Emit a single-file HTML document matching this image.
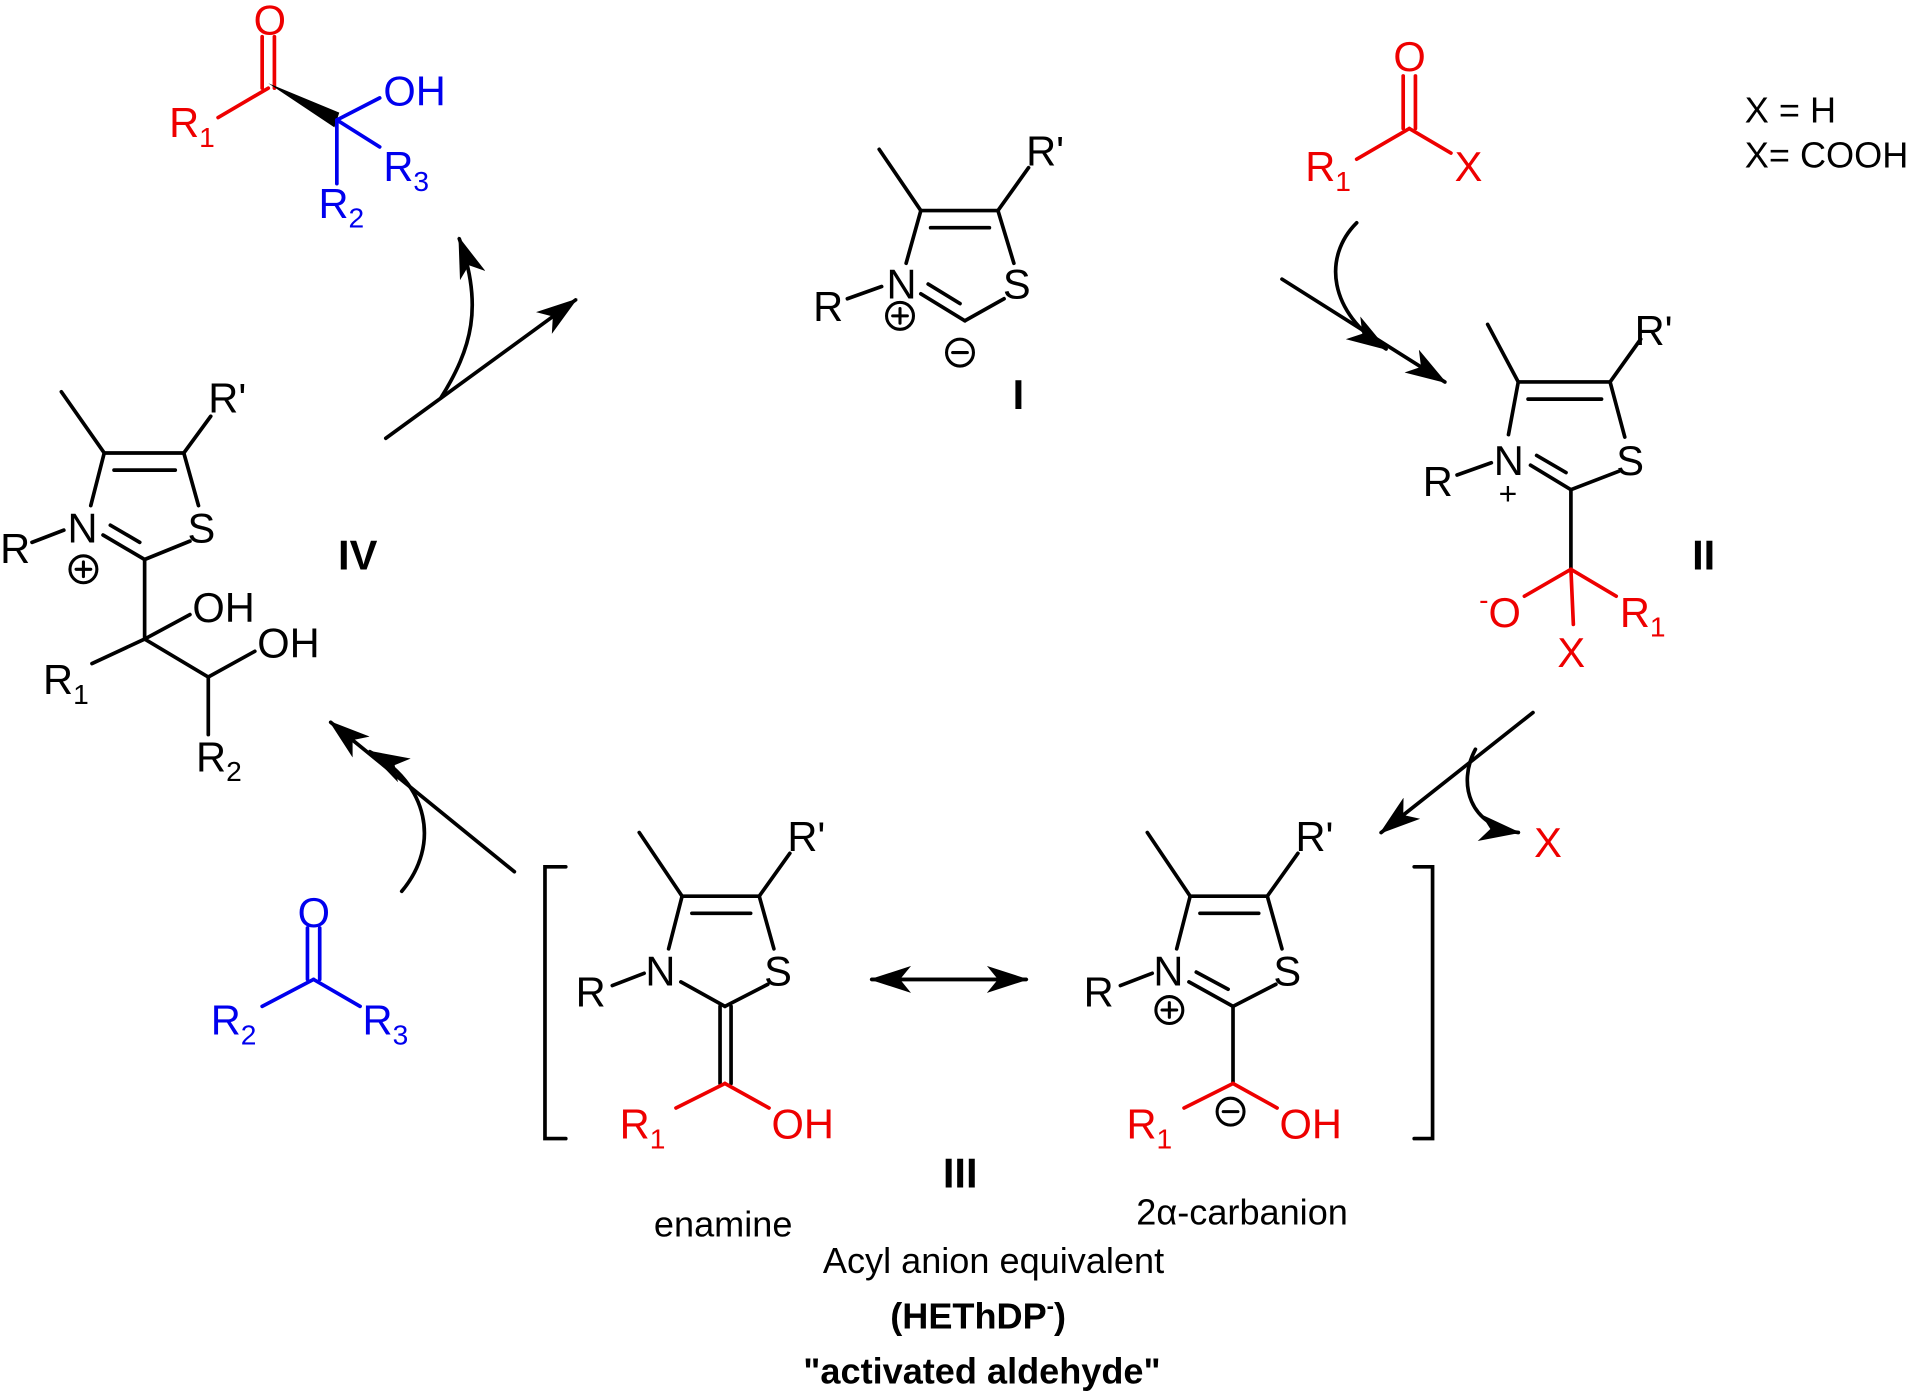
<!DOCTYPE html>
<html><head><meta charset="utf-8"><style>
html,body{margin:0;padding:0;background:#fff;}
svg{display:block;}
text{font-family:"Liberation Sans",sans-serif;font-size:34px;}
.b{font-weight:bold;}
.r{fill:#e00;}
.u{fill:#00e;}
.s{font-size:23px;}
.t{font-size:29.5px;}
</style></head><body>
<svg width="1920" height="1392" viewBox="0 0 1568 1137" xmlns="http://www.w3.org/2000/svg">
<defs>
<marker id="ah" viewBox="0 0 34 22" refX="32" refY="11" markerWidth="34" markerHeight="22" markerUnits="userSpaceOnUse" orient="auto">
<path d="M0,0 L34,11 L0,22 L9,11 Z" fill="#000"/>
</marker>
</defs>
<g stroke="#000" stroke-width="3" fill="none" stroke-linecap="round">
<!-- I -->
<line x1="718" y1="122" x2="752" y2="172"/>
<line x1="752" y1="172" x2="815" y2="172"/>
<line x1="760" y1="186" x2="808" y2="186"/>
<line x1="815" y1="172" x2="840" y2="137"/>
<line x1="815" y1="172" x2="828" y2="215"/>
<line x1="752" y1="172" x2="740" y2="215"/>
<line x1="820" y1="244" x2="788" y2="262"/>
<line x1="788" y1="262" x2="752" y2="240"/>
<line x1="784" y1="248" x2="758" y2="232"/>
<line x1="692" y1="244" x2="720" y2="234"/>
<circle cx="735" cy="258" r="11" stroke-width="2.5"/>
<line x1="729" y1="258" x2="741" y2="258" stroke-width="2.5"/><line x1="735" y1="252" x2="735" y2="264" stroke-width="2.5"/>
<circle cx="784" cy="288" r="11" stroke-width="2.5"/>
<line x1="778" y1="288" x2="790" y2="288" stroke-width="2.5"/>
<!-- II -->
<line x1="1215" y1="265" x2="1240" y2="312"/>
<line x1="1240" y1="312" x2="1315" y2="312"/>
<line x1="1248" y1="326" x2="1308" y2="326"/>
<line x1="1315" y1="312" x2="1340" y2="277"/>
<line x1="1315" y1="312" x2="1327" y2="357"/>
<line x1="1240" y1="312" x2="1232" y2="355"/>
<line x1="1322" y1="385" x2="1283" y2="400"/>
<line x1="1283" y1="400" x2="1250" y2="380"/>
<line x1="1279" y1="386" x2="1255" y2="372"/>
<line x1="1190" y1="388" x2="1218" y2="378"/>
<line x1="1283" y1="400" x2="1283" y2="465"/>
<!-- IV -->
<line x1="50" y1="320" x2="85" y2="370"/>
<line x1="85" y1="370" x2="150" y2="370"/>
<line x1="93" y1="384" x2="143" y2="384"/>
<line x1="150" y1="370" x2="172" y2="340"/>
<line x1="150" y1="370" x2="162" y2="413"/>
<line x1="85" y1="370" x2="74" y2="413"/>
<line x1="155" y1="442" x2="118" y2="457"/>
<line x1="118" y1="457" x2="84" y2="437"/>
<line x1="114" y1="443" x2="90" y2="429"/>
<line x1="26" y1="443" x2="52" y2="433"/>
<circle cx="68" cy="465" r="11" stroke-width="2.5"/>
<line x1="62" y1="465" x2="74" y2="465" stroke-width="2.5"/><line x1="68" y1="459" x2="68" y2="471" stroke-width="2.5"/>
<line x1="118" y1="457" x2="118" y2="522"/>
<line x1="118" y1="522" x2="155" y2="502"/>
<line x1="118" y1="522" x2="75" y2="542"/>
<line x1="118" y1="522" x2="170" y2="553"/>
<line x1="170" y1="553" x2="208" y2="532"/>
<line x1="170" y1="553" x2="170" y2="600"/>
<!-- III enamine -->
<line x1="522" y1="680" x2="557" y2="732"/>
<line x1="557" y1="732" x2="620" y2="732"/>
<line x1="565" y1="746" x2="613" y2="746"/>
<line x1="620" y1="732" x2="645" y2="697"/>
<line x1="620" y1="732" x2="632" y2="775"/>
<line x1="557" y1="732" x2="546" y2="775"/>
<line x1="627" y1="804" x2="592" y2="822"/>
<line x1="592" y1="822" x2="556" y2="802"/>
<line x1="500" y1="805" x2="526" y2="795"/>
<line x1="588" y1="822" x2="588" y2="885"/>
<line x1="597" y1="822" x2="597" y2="885"/>
<!-- carbanion -->
<line x1="937" y1="680" x2="972" y2="732"/>
<line x1="972" y1="732" x2="1035" y2="732"/>
<line x1="980" y1="746" x2="1028" y2="746"/>
<line x1="1035" y1="732" x2="1060" y2="697"/>
<line x1="1035" y1="732" x2="1047" y2="775"/>
<line x1="972" y1="732" x2="961" y2="775"/>
<line x1="1042" y1="804" x2="1007" y2="822"/>
<line x1="1007" y1="822" x2="971" y2="802"/>
<line x1="1003" y1="808" x2="977" y2="794"/>
<line x1="915" y1="805" x2="941" y2="795"/>
<circle cx="955" cy="825" r="11" stroke-width="2.5"/>
<line x1="949" y1="825" x2="961" y2="825" stroke-width="2.5"/><line x1="955" y1="819" x2="955" y2="831" stroke-width="2.5"/>
<line x1="1007" y1="822" x2="1007" y2="885"/>
<circle cx="1005" cy="908" r="11" stroke-width="2.5"/>
<line x1="999" y1="908" x2="1011" y2="908" stroke-width="2.5"/>
<!-- brackets -->
<polyline points="462,708 445,708 445,930 462,930"/>
<polyline points="1155,708 1170,708 1170,930 1155,930"/>
<!-- arrows -->
<line x1="712" y1="800" x2="838" y2="800" marker-end="url(#ah)"/>
<line x1="838" y1="800" x2="712" y2="800" marker-end="url(#ah)"/>
<line x1="1047" y1="228" x2="1180" y2="312" marker-end="url(#ah)"/>
<path d="M1108,182 C1080,210 1085,255 1132,285" marker-end="url(#ah)"/>
<line x1="1252" y1="582" x2="1128" y2="680" marker-end="url(#ah)"/>
<path d="M1205,612 C1190,640 1200,675 1240,680" marker-end="url(#ah)"/>
<line x1="420" y1="712" x2="270" y2="590" marker-end="url(#ah)"/>
<path d="M328,728 C360,690 350,640 302,614" marker-end="url(#ah)"/>
<line x1="315" y1="358" x2="470" y2="245" marker-end="url(#ah)"/>
<path d="M360,325 C385,285 395,250 375,195" marker-end="url(#ah)"/>
</g>
<g stroke="#e00" stroke-width="3" fill="none" stroke-linecap="round">
<line x1="214" y1="30" x2="214" y2="72"/><line x1="224" y1="30" x2="224" y2="72"/>
<line x1="219" y1="72" x2="178" y2="96"/>
<line x1="1146" y1="62" x2="1146" y2="105"/><line x1="1156" y1="62" x2="1156" y2="105"/>
<line x1="1151" y1="105" x2="1108" y2="130"/>
<line x1="1151" y1="105" x2="1185" y2="125"/>
<line x1="1283" y1="465" x2="1245" y2="487"/>
<line x1="1283" y1="465" x2="1320" y2="487"/>
<line x1="1283" y1="465" x2="1285" y2="510"/>
<line x1="592" y1="885" x2="552" y2="905"/>
<line x1="592" y1="885" x2="628" y2="905"/>
<line x1="1007" y1="885" x2="967" y2="905"/>
<line x1="1007" y1="885" x2="1043" y2="905"/>
</g>
<polygon points="219,68 277,92 273,104" fill="#000"/>
<g stroke="#00e" stroke-width="3" fill="none" stroke-linecap="round">
<line x1="275" y1="98" x2="310" y2="80"/>
<line x1="275" y1="98" x2="310" y2="120"/>
<line x1="275" y1="98" x2="275" y2="150"/>
<line x1="251" y1="758" x2="251" y2="800"/><line x1="261" y1="758" x2="261" y2="800"/>
<line x1="256" y1="800" x2="214" y2="822"/>
<line x1="256" y1="800" x2="294" y2="822"/>
</g>
<!-- labels -->
<text x="838" y="135">R'</text><text x="724" y="244">N</text><text x="819" y="244">S</text><text x="664" y="262">R</text>
<text x="827" y="334" class="b">I</text>
<text x="1335" y="282">R'</text><text x="1220" y="388">N</text><text x="1320" y="388">S</text><text x="1162" y="405">R</text>
<text x="1224" y="412" style="font-size:26px">+</text>
<text x="1382" y="465" class="b">II</text>
<text x="1208" y="512" class="r"><tspan class="s" dy="-14">-</tspan><tspan dy="14">O</tspan></text>
<text x="1323" y="512" class="r">R<tspan class="s" dy="8">1</tspan></text>
<text x="1272" y="545" class="r">X</text>
<text x="170" y="337">R'</text><text x="55" y="443">N</text><text x="153" y="443">S</text><text x="0" y="460">R</text>
<text x="276" y="465" class="b">IV</text>
<text x="157" y="508">OH</text><text x="210" y="537">OH</text>
<text x="35" y="567">R<tspan class="s" dy="8">1</tspan></text>
<text x="160" y="630">R<tspan class="s" dy="8">2</tspan></text>
<text x="643" y="695">R'</text><text x="527" y="805">N</text><text x="624" y="805">S</text><text x="470" y="822">R</text>
<text x="506" y="930" class="r">R<tspan class="s" dy="8">1</tspan></text>
<text x="630" y="930" class="r">OH</text>
<text x="1058" y="695">R'</text><text x="942" y="805">N</text><text x="1040" y="805">S</text><text x="885" y="822">R</text>
<text x="920" y="930" class="r">R<tspan class="s" dy="8">1</tspan></text>
<text x="1045" y="930" class="r">OH</text>
<text x="770" y="970" class="b">III</text>
<text x="534" y="1010" class="t">enamine</text>
<text x="928" y="1000" class="t">2α-carbanion</text>
<text x="672" y="1040" class="t">Acyl anion equivalent</text>
<text x="727" y="1085" class="b t">(HEThDP<tspan dy="-12" style="font-size:18px">-</tspan><tspan dy="12">)</tspan></text>
<text x="656" y="1130" class="b t">"activated aldehyde"</text>
<text x="207" y="28" class="r">O</text>
<text x="138" y="112" class="r">R<tspan class="s" dy="8">1</tspan></text>
<text x="313" y="86" class="u">OH</text>
<text x="313" y="148" class="u">R<tspan class="s" dy="8">3</tspan></text>
<text x="260" y="178" class="u">R<tspan class="s" dy="8">2</tspan></text>
<text x="1138" y="58" class="r">O</text>
<text x="1066" y="148" class="r">R<tspan class="s" dy="8">1</tspan></text>
<text x="1188" y="148" class="r">X</text>
<text x="1425" y="100" class="t">X = H</text>
<text x="1425" y="137" class="t">X= COOH</text>
<text x="1253" y="700" class="r">X</text>
<text x="243" y="757" class="u">O</text>
<text x="172" y="845" class="u">R<tspan class="s" dy="8">2</tspan></text>
<text x="296" y="845" class="u">R<tspan class="s" dy="8">3</tspan></text>
</svg>
</body></html>
